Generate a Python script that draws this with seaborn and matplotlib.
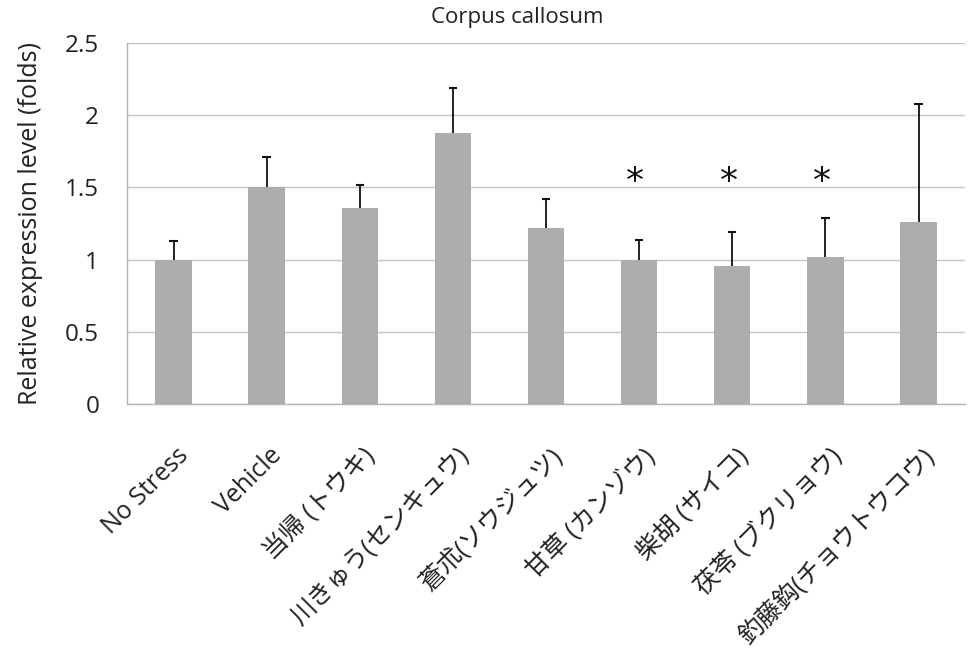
import matplotlib
matplotlib.use("Agg")
import matplotlib.pyplot as plt
import matplotlib.transforms as mtransforms
import seaborn as sns
import pandas as pd
import numpy as np

# Groups, mean fold change and upper error (SD) per group
groups = ["No Stress", "Vehicle", "当帰 (トウキ)", "川きゅう(センキュウ)", "蒼朮(ソウジュツ)",
          "甘草 (カンゾウ)", "柴胡 (サイコ)", "茯苓 (ブクリョウ)", "釣藤鈎(チョウトウコウ)"]
means = [1.00, 1.50, 1.36, 1.88, 1.22, 1.00, 0.96, 1.02, 1.26]
errors = [0.13, 0.21, 0.16, 0.31, 0.20, 0.14, 0.23, 0.27, 0.82]
significant = [False, False, False, False, False, True, True, True, False]
star_height = 1.535

sns.set_theme(style="white")
plt.rcParams["font.family"] = ["Open Sans", "Noto Sans CJK JP", "DejaVu Sans"]

df = pd.DataFrame({"group": groups, "mean": means, "err": errors})
df["top"] = df["mean"] + df["err"]

fig = plt.figure(figsize=(9.69, 6.5), dpi=100)
ax = fig.add_axes([0.131, 0.378, 0.865, 0.556])

sns.barplot(data=df, x="group", y="mean", color="#adadad", saturation=1,
            width=0.39, errorbar=None, ax=ax, zorder=3, edgecolor="none")

# Upper-only error bars: stem from bar top plus a cap
x = np.arange(len(groups))
ax.vlines(x, df["mean"], df["top"], color="#111111", linewidth=1.3, zorder=4)
ax.hlines(df["top"], x - 0.045, x + 0.045, color="#111111", linewidth=1.5, zorder=4)

for xi, sig in zip(x, significant):
    if sig:
        ax.text(xi - 0.04, star_height, "*", ha="center", va="center",
                fontsize=26, color="#111111", family="DejaVu Sans", zorder=5)

ax.set_ylim(0, 2.5)
ax.set_xlim(-0.5, len(groups) - 0.5)
ax.set_yticks([0, 0.5, 1, 1.5, 2, 2.5])
ax.set_yticklabels(["0", "0.5", "1", "1.5", "2", "2.5"])
ax.yaxis.grid(True, color="#c4c4c4", linewidth=1.0, zorder=0)
ax.set_axisbelow(True)

for side in ["top", "right"]:
    ax.spines[side].set_visible(False)
for side in ["left", "bottom"]:
    ax.spines[side].set_color("#b5b5b5")
    ax.spines[side].set_linewidth(1.0)

ax.tick_params(axis="y", labelsize=17.5, length=0, pad=20, colors="#222222")
ax.set_xticks(x)
ax.set_xticklabels(groups, rotation=45, ha="right", rotation_mode="anchor",
                   fontsize=18, color="#222222")
ax.tick_params(axis="x", length=0, pad=28)
shift = mtransforms.ScaledTranslation(3 / 100, 0, fig.dpi_scale_trans)
for lbl in ax.get_xticklabels():
    lbl.set_transform(lbl.get_transform() + shift)

# Category separators below the axis
ax.set_xticks(np.arange(-0.5, len(groups), 1.0), minor=True)
ax.tick_params(axis="x", which="minor", length=6, width=1, color="#b5b5b5", direction="out")

ax.set_xlabel("")
ax.set_ylabel("Relative expression level (folds)", fontsize=18, color="#222222", labelpad=16)
fig.text(517 / 969, 1 - 18 / 650, "Corpus callosum", ha="center", va="center",
         fontsize=16, color="#222222")

fig.savefig("out.png", dpi=100)
